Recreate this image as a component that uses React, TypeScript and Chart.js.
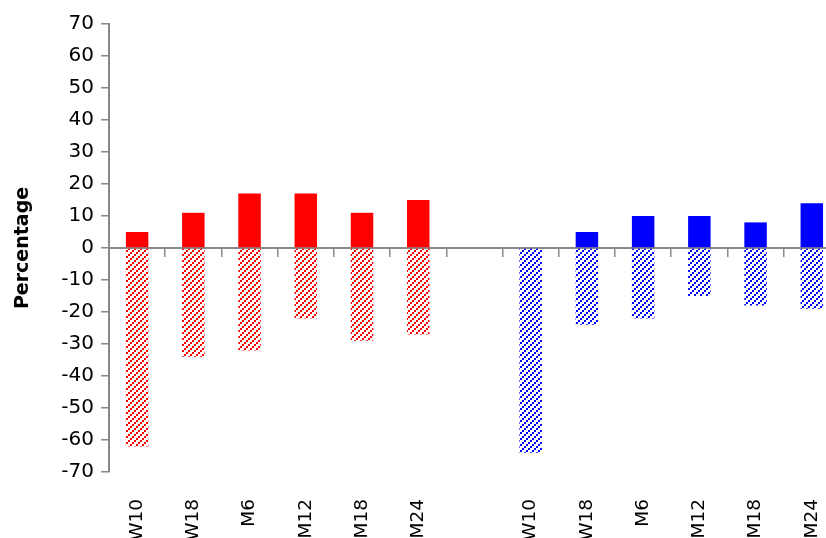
import React, { useEffect, useRef } from 'react';
import { Chart, registerables } from 'chart.js';

Chart.register(...registerables);

// ---- data ----
const periods = ['W10', 'W18', 'M6', 'M12', 'M18', 'M24'];
const categories = [...periods, '', ...periods];
const redPositive = [5, 11, 17, 17, 11, 15];
const redNegative = [-62, -34, -32, -22, -29, -27];
const bluePositive = [0, 5, 10, 10, 8, 14];
const blueNegative = [-64, -24, -22, -15, -18, -19];
const yTicksMin = -70;
const yTicksMax = 70;
const yTickStep = 10;
const yTitle = 'Percentage';

const RED = '#ff0000';
const BLUE = '#0000ff';
const GREY = '#898989';
const FONT = '"DejaVu Sans", sans-serif';

const blanks = (n: number) => Array.from({ length: n }, () => null as number | null);
const leftGroup = (vals: number[]) => [...vals, ...blanks(7)];
const rightGroup = (vals: number[]) => [...blanks(7), ...vals];

function makeHatch(color: string): CanvasPattern | string {
  const c = document.createElement('canvas');
  c.width = 6;
  c.height = 6;
  const g = c.getContext('2d');
  if (!g) return color;
  g.fillStyle = color;
  g.fillRect(0, 4, 2, 2);
  g.fillRect(2, 2, 2, 2);
  g.fillRect(4, 0, 2, 2);
  return g.createPattern(c, 'repeat') || color;
}

export default function App() {
  const canvasRef = useRef<HTMLCanvasElement | null>(null);

  useEffect(() => {
    const canvas = canvasRef.current;
    if (!canvas) return;
    const redHatch = makeHatch(RED);
    const blueHatch = makeHatch(BLUE);
    const barOpts = { barPercentage: 0.4, categoryPercentage: 1, borderWidth: 0 };

    const chart = new Chart(canvas, {
      type: 'bar',
      data: {
        labels: categories,
        datasets: [
          { label: 'red+', data: leftGroup(redPositive), backgroundColor: RED, ...barOpts },
          { label: 'red-', data: leftGroup(redNegative), backgroundColor: redHatch as any, ...barOpts },
          { label: 'blue+', data: rightGroup(bluePositive), backgroundColor: BLUE, ...barOpts },
          { label: 'blue-', data: rightGroup(blueNegative), backgroundColor: blueHatch as any, ...barOpts },
        ],
      },
      options: {
        responsive: false,
        animation: false,
        layout: { padding: { left: 8, top: 24, right: 0, bottom: 0 } },
        plugins: { legend: { display: false }, tooltip: { enabled: false }, title: { display: false } },
        scales: {
          x: {
            type: 'category',
            position: 'bottom',
            stacked: true,
            offset: true,
            grid: { display: false, drawTicks: false },
            border: { display: false },
            ticks: {
              color: '#000',
              font: { family: FONT, size: 18.5 },
              minRotation: 90,
              maxRotation: 90,
              autoSkip: false,
              padding: 27,
            },
            afterFit: (s: any) => { s.height = 66; },
          },
          x2: {
            type: 'category',
            axis: 'x',
            position: { y: 0 } as any,
            offset: true,
            grid: { display: true, offset: true, drawOnChartArea: false, drawTicks: true, tickLength: 8, color: GREY, lineWidth: 1.5 },
            border: { display: true, color: GREY, width: 2 },
            ticks: { display: false },
            afterFit: (s: any) => { s.height = 0; },
          },
          y: {
            type: 'linear',
            position: 'left',
            stacked: true,
            min: yTicksMin,
            max: yTicksMax,
            grid: { display: true, drawOnChartArea: false, drawTicks: true, tickLength: 8, color: GREY, lineWidth: 1.5 },
            border: { display: true, color: GREY, width: 2 },
            ticks: {
              stepSize: yTickStep,
              color: '#000',
              font: { family: FONT, size: 20 },
              padding: 7,
            },
            title: {
              display: true,
              text: yTitle,
              color: '#000',
              font: { family: FONT, size: 19, weight: 'bold' },
              padding: { top: 4, bottom: 0 },
            },
            afterFit: (s: any) => { s.width = 101; },
          },
        },
      },
    });
    return () => chart.destroy();
  }, []);

  return (
    <div style={{ position: 'fixed', left: 0, top: 0, width: 826, height: 538, overflow: 'hidden', background: '#fff' }}>
      <canvas ref={canvasRef} width={861} height={538} style={{ width: 861, height: 538, display: 'block' }} />
    </div>
  );
}
